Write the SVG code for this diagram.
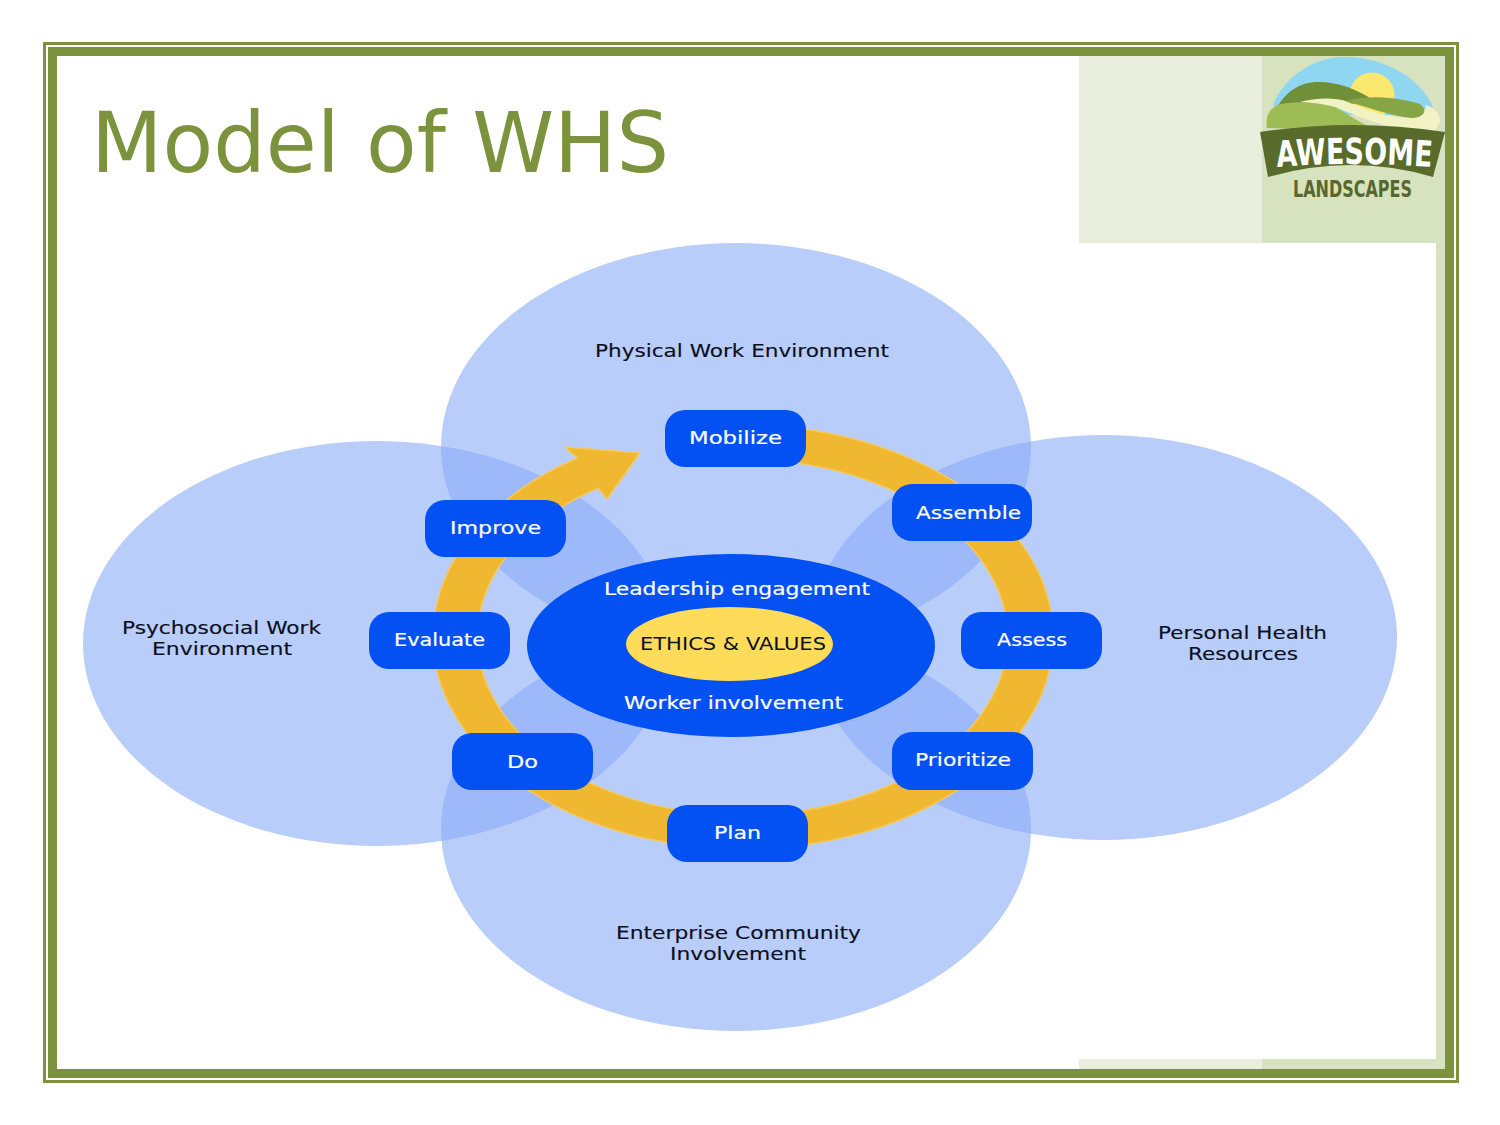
<svg xmlns="http://www.w3.org/2000/svg" width="1500" height="1125" viewBox="0 0 1500 1125">
<style>
.f{fill:none;stroke:#7d923c}
.area{fill:#8aacf8;fill-opacity:.6}
.box{fill:#0351f2}
text{font-family:"DejaVu Sans",sans-serif}
.lb{font-size:18px;fill:#0b0f20;stroke:#0b0f20;stroke-width:.15px}
.nd{font-size:18px;fill:#fff;stroke:#fff;stroke-width:.2px}
</style>
<defs><path id="logo-arc" d="M1277 167Q1353 161 1432 167"/></defs>
<rect width="1500" height="1125" fill="#fff"/>
<g id="frame">
<rect x="1079" y="56" width="183" height="187" fill="#e9efdc"/>
<rect x="1262" y="56" width="183" height="187" fill="#d7e2bf"/>
<rect x="1436" y="243" width="9" height="826" fill="#d7e2bf"/>
<rect x="1079" y="1059" width="183" height="10" fill="#e9efdc"/>
<rect x="1262" y="1059" width="183" height="10" fill="#d7e2bf"/>
<rect class="f" x="44.500" y="43.500" width="1413" height="1038" stroke-width="3"/>
<rect class="f" x="52.500" y="51.500" width="1397" height="1022" stroke-width="9"/>
</g>
<text id="title" x="91" y="172" font-size="84" fill="#7d923c" textLength="578" lengthAdjust="spacingAndGlyphs">Model of WHS</text>
<g id="logo">
<path d="M1273 105C1283 80 1310 57 1345 57C1385 57 1420 78 1433 107L1400 115H1290Z" fill="#8fd6f0"/>
<circle cx="1372" cy="95" r="22.500" fill="#fbe96f"/>
<path d="M1277 108C1285 92 1300 82 1318 82C1340 82 1358 90 1373 100L1340 106L1302 104Z" fill="#6f8f38"/>
<path d="M1345 101C1365 95 1395 96 1420 104C1428 110 1424 118 1412 118C1390 116 1365 106 1345 101Z" fill="#86a545"/>
<path d="M1300 102C1315 98 1335 97 1348 102C1362 108 1385 118 1412 118C1424 118 1428 110 1425 105C1436 108 1441 116 1440 122L1435 131L1402 128C1385 126 1365 120 1335 107Z" fill="#f2f3c4"/>
<path d="M1267 128C1265 116 1270 108 1278 105C1290 101 1315 101 1335 107C1345 112 1355 120 1372 128L1320 130Z" fill="#9ebc56"/>
<path d="M1260 132Q1352 118 1445 132L1433 177Q1352 153 1268 177Z" fill="#586b2b"/>
<text font-size="36" font-weight="bold" fill="#fff"><textPath href="#logo-arc" textLength="155" lengthAdjust="spacingAndGlyphs">AWESOME</textPath></text>
<text x="1293" y="197" font-size="23" font-weight="bold" fill="#56682e" textLength="119" lengthAdjust="spacingAndGlyphs">LANDSCAPES</text>
</g>
<g id="areas">
<g id="area-top"><ellipse class="area" cx="736" cy="447" rx="295" ry="204"/><text class="lb" x="595" y="357" textLength="294" lengthAdjust="spacingAndGlyphs">Physical Work Environment</text></g>
<g id="area-bottom"><ellipse class="area" cx="736" cy="829" rx="295" ry="202"/><text class="lb" x="616" y="939" textLength="245" lengthAdjust="spacingAndGlyphs">Enterprise Community</text><text class="lb" x="670" y="960" textLength="136" lengthAdjust="spacingAndGlyphs">Involvement</text></g>
<g id="area-left"><ellipse class="area" cx="376.500" cy="643.500" rx="293.500" ry="202.500"/><text class="lb" x="122" y="634" textLength="199" lengthAdjust="spacingAndGlyphs">Psychosocial Work</text><text class="lb" x="152" y="655" textLength="140" lengthAdjust="spacingAndGlyphs">Environment</text></g>
<g id="area-right"><ellipse class="area" cx="1103.500" cy="637.500" rx="293.500" ry="202.500"/><text class="lb" x="1158" y="639" textLength="169" lengthAdjust="spacingAndGlyphs">Personal Health</text><text class="lb" x="1188" y="660" textLength="110" lengthAdjust="spacingAndGlyphs">Resources</text></g>
</g>
<g id="connectors">
<path d="M577 458A310 212 0 1 0 780 426.500L780 461A265 178 0 1 1 598 488L607 499L640 453L565 447Z" fill="#f0b831" stroke="#f4c95c" stroke-width="1.500" stroke-linejoin="round"/>
</g>
<g id="core">
<ellipse class="box" cx="731" cy="645.500" rx="204" ry="91.500"/>
<ellipse cx="729.500" cy="644" rx="103.500" ry="37" fill="#fedc5a"/>
<text class="nd" x="604" y="595" textLength="266" lengthAdjust="spacingAndGlyphs">Leadership engagement</text>
<text x="640" y="650" font-size="18" fill="#0b0f20" textLength="186" lengthAdjust="spacingAndGlyphs">ETHICS &amp; VALUES</text>
<text class="nd" x="624" y="709" textLength="219" lengthAdjust="spacingAndGlyphs">Worker involvement</text>
</g>
<g id="node-mobilize"><rect class="box" x="665" y="410" width="141" height="57" rx="20"/><text class="nd" x="689" y="444" textLength="93" lengthAdjust="spacingAndGlyphs">Mobilize</text></g>
<g id="node-assemble"><rect class="box" x="892" y="484" width="140" height="57" rx="20"/><text class="nd" x="916" y="519" textLength="105" lengthAdjust="spacingAndGlyphs">Assemble</text></g>
<g id="node-assess"><rect class="box" x="961" y="612" width="141" height="57" rx="20"/><text class="nd" x="997" y="646" textLength="70" lengthAdjust="spacingAndGlyphs">Assess</text></g>
<g id="node-prioritize"><rect class="box" x="892" y="732" width="141" height="58" rx="20"/><text class="nd" x="915" y="766" textLength="96" lengthAdjust="spacingAndGlyphs">Prioritize</text></g>
<g id="node-plan"><rect class="box" x="667" y="805" width="141" height="57" rx="20"/><text class="nd" x="714" y="839" textLength="47" lengthAdjust="spacingAndGlyphs">Plan</text></g>
<g id="node-do"><rect class="box" x="452" y="733" width="141" height="57" rx="20"/><text class="nd" x="507" y="768" textLength="31" lengthAdjust="spacingAndGlyphs">Do</text></g>
<g id="node-evaluate"><rect class="box" x="369" y="612" width="141" height="57" rx="20"/><text class="nd" x="394" y="646" textLength="91" lengthAdjust="spacingAndGlyphs">Evaluate</text></g>
<g id="node-improve"><rect class="box" x="425" y="500" width="141" height="57" rx="20"/><text class="nd" x="450" y="534" textLength="91" lengthAdjust="spacingAndGlyphs">Improve</text></g>
</svg>
